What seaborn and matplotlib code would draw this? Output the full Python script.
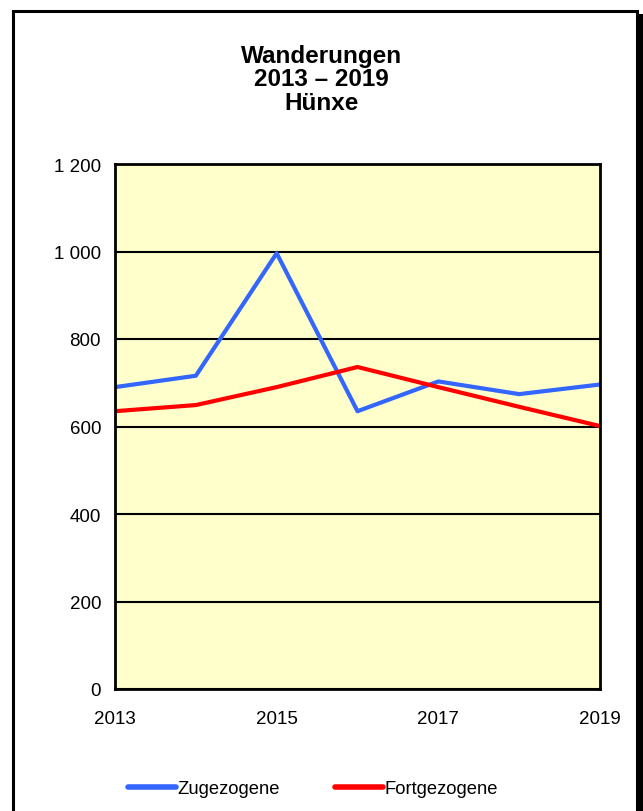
import pandas as pd
import numpy as np
import seaborn as sns
import matplotlib.pyplot as plt
from matplotlib.patches import Rectangle

#Data
years = [2013, 2014, 2015, 2016, 2017, 2018, 2019]
zugezogene = [690, 716, 996, 635, 703, 674, 696]
fortgezogene = [635, 649, 690, 736, 690, 645, 601]
series_names = ['Zugezogene', 'Fortgezogene']
title_lines = ['Wanderungen', '2013 – 2019', 'Hünxe']

df = pd.DataFrame({
    'Jahr': years * 2,
    'Wert': zugezogene + fortgezogene,
    'Reihe': [series_names[0]] * len(years) + [series_names[1]] * len(years),
})

sns.set_style('white')
plt.rcParams['font.family'] = ['Liberation Sans', 'DejaVu Sans']
plt.rcParams['text.color'] = 'black'
plt.rcParams['xtick.color'] = 'black'
plt.rcParams['ytick.color'] = 'black'

fig = plt.figure(figsize=(6.43, 8.12), dpi=100)
ax = fig.add_axes([115 / 643, 1 - 690 / 812, 485 / 643, 525 / 812])
ax.set_facecolor('#FFFFCC')

sns.lineplot(data=df, x='Jahr', y='Wert', hue='Reihe', palette=['#3366FF', '#FF0000'],
             linewidth=3, ax=ax, legend=False)

ax.set_xlim(2013, 2019)
ax.set_ylim(0, 1200)
ax.set_yticks(range(0, 1201, 200))
ax.set_yticklabels([f'{v:,}'.replace(',', ' ') for v in range(0, 1201, 200)], fontsize=13.5)
ax.set_xticks(years)
ax.set_xticklabels([str(y) if y % 2 == 1 else '' for y in years], fontsize=13.5)
ax.tick_params(axis='both', direction='out', length=6, width=1.5, color='black', pad=4)
ax.tick_params(axis='x', pad=9)
ax.yaxis.grid(True, color='black', linewidth=1.5)
ax.set_axisbelow(True)
for s in ax.spines.values():
    s.set_color('black')
    s.set_linewidth(2)
ax.set_xlabel('')
ax.set_ylabel('')

fig.text(0.5, 1 - 80 / 812, '\n'.join(title_lines), ha='center', va='center',
         fontsize=17.5, fontweight='bold', linespacing=1.05)

#Legend below the plot
handles = [plt.Line2D([], [], color=c, linewidth=4, solid_capstyle='round') for c in ['#3366FF', '#FF0000']]
fig.legend(handles, series_names, loc='center', bbox_to_anchor=(313 / 643, 1 - 790 / 812), ncol=2,
           frameon=False, fontsize=13.2, handlelength=2.6, handletextpad=0.1, columnspacing=3.0)

#Outer frame with shadow on the right
fig.patches.append(Rectangle((637 / 643, -0.01), 6 / 643, 1 - 15 / 812 + 0.01, transform=fig.transFigure,
                             facecolor='black', edgecolor='none'))
fig.patches.append(Rectangle((12.5 / 643, -0.01), 624 / 643, 1 - 11.5 / 812 + 0.01, transform=fig.transFigure,
                             facecolor='none', edgecolor='black', linewidth=2.2))

fig.savefig('out.png', dpi=100)
